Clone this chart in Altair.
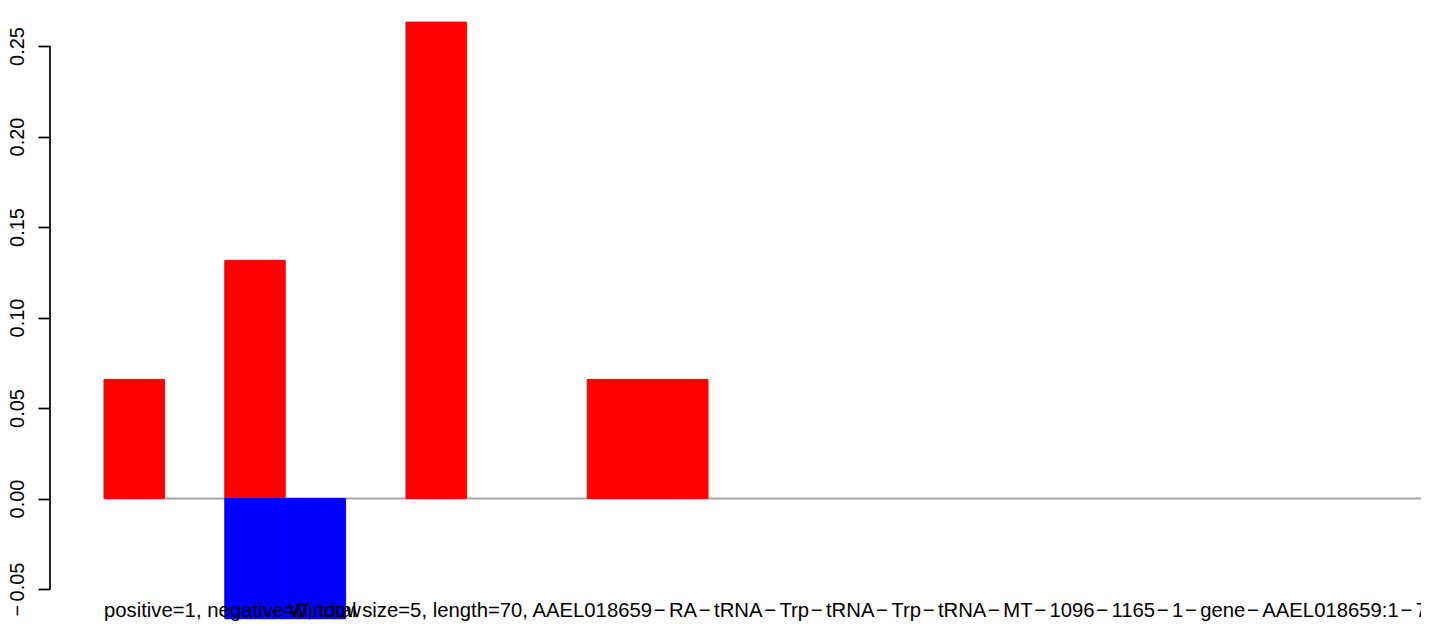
import altair as alt
import pandas as pd

# ---- data ----
bin_index = [0, 1, 2, 3, 4, 5, 6, 7, 8, 9, 10, 11, 12, 13, 14, 15, 16, 17, 18, 19, 20, 21]
positive_vals = [0.0658, 0, 0.1316, 0, 0, 0.2632, 0, 0, 0.0658, 0.0658, 0, 0,
                 0, 0, 0, 0, 0, 0, 0, 0, 0, 0]
negative_vals = [0, 0, -0.0664, -0.0664, 0, 0, 0, 0, 0, 0, 0, 0,
                 0, 0, 0, 0, 0, 0, 0, 0, 0, 0]
y_tick_values = [-0.05, 0.0, 0.05, 0.10, 0.15, 0.20, 0.25]
caption_parts = ["positive=1, negative=0, total size=5, length=70, AAEL018659", "RA", "tRNA",
                 "Trp", "tRNA", "Trp", "tRNA", "MT", "1096", "1165", "1", "gene",
                 "AAEL018659:1", "70"]
overlay_text = "Window"

FONT = "Liberation Sans"
FONT_SIZE = 20.3
# R's minus sign is wider than Liberation's: pad it slightly
WIDE_MINUS = "\u200A\u2212\u2006"
caption_text = WIDE_MINUS.join(caption_parts)

rows = []
for i, p, n in zip(bin_index, positive_vals, negative_vals):
    rows.append({"start": i, "end": i + 1, "value": p, "series": "positive"})
    rows.append({"start": i, "end": i + 1, "value": n, "series": "negative"})
bars_df = pd.DataFrame(rows)

x_scale = alt.Scale(domain=[-0.894, 21.805], nice=False, zero=False)
y_scale = alt.Scale(domain=[-0.06823, 0.26989], nice=False, zero=False)

zero_df = pd.DataFrame({"x0": [min(bin_index)], "x1": [max(bin_index) + 1], "y": [0.0]})
zero_line = alt.Chart(zero_df).mark_rule(color="#A6A6A6", strokeWidth=2, clip=False).encode(
    x=alt.X("x0:Q", scale=x_scale, axis=None),
    x2="x1:Q",
    y=alt.Y("y:Q", scale=y_scale, axis=alt.Axis(
        values=y_tick_values, title=None, grid=False, domain=False,
        labelExpr="datum.value < 0 ? '\u2006\u2212\u2006' + format(-datum.value, '.2f') : format(datum.value, '.2f')",
        labelAngle=270, labelAlign="center", labelBaseline="alphabetic",
        labelPadding=15, tickSize=12, tickWidth=1.7, tickColor="black",
        labelFontSize=20, labelFont=FONT, labelColor="black", labelOverlap=False,
        labelFlush=False)),
)

color_scale = alt.Scale(domain=["positive", "negative"], range=["#FF0000", "#0000FF"])
bars = alt.Chart(bars_df).transform_filter("datum.value != 0").mark_rect(strokeWidth=1).encode(
    x=alt.X("start:Q", scale=x_scale, axis=None),
    x2="end:Q",
    y=alt.Y("value:Q", scale=y_scale),
    y2=alt.datum(0),
    color=alt.Color("series:N", scale=color_scale, legend=None),
    stroke=alt.Stroke("series:N", scale=color_scale, legend=None),
)

axis_df = pd.DataFrame({"lo": [min(y_tick_values)], "hi": [max(y_tick_values)]})
axis_line = alt.Chart(axis_df).mark_rule(color="black", strokeWidth=1.7).encode(
    x=alt.value(0),
    y=alt.Y("lo:Q", scale=y_scale),
    y2="hi:Q",
)

text_df = pd.DataFrame({"x": [0.0, 3.06], "y": [-0.06547, -0.06547],
                        "label": [caption_text, overlay_text]})
texts = alt.Chart(text_df).mark_text(
    align="left", baseline="alphabetic", fontSize=FONT_SIZE, font=FONT, color="black"
).encode(
    x=alt.X("x:Q", scale=x_scale),
    y=alt.Y("y:Q", scale=y_scale),
    text="label:N",
)

chart = alt.layer(zero_line, bars, axis_line, texts).properties(
    width=1371, height=612,
    autosize=alt.AutoSizeParams(type="none"),
    padding={"left": 42, "top": 2, "right": 0, "bottom": 0},
).configure(background="white").configure_view(stroke=None, strokeWidth=0)

chart.save("out.html", embed_options={"renderer": "svg", "actions": False})
